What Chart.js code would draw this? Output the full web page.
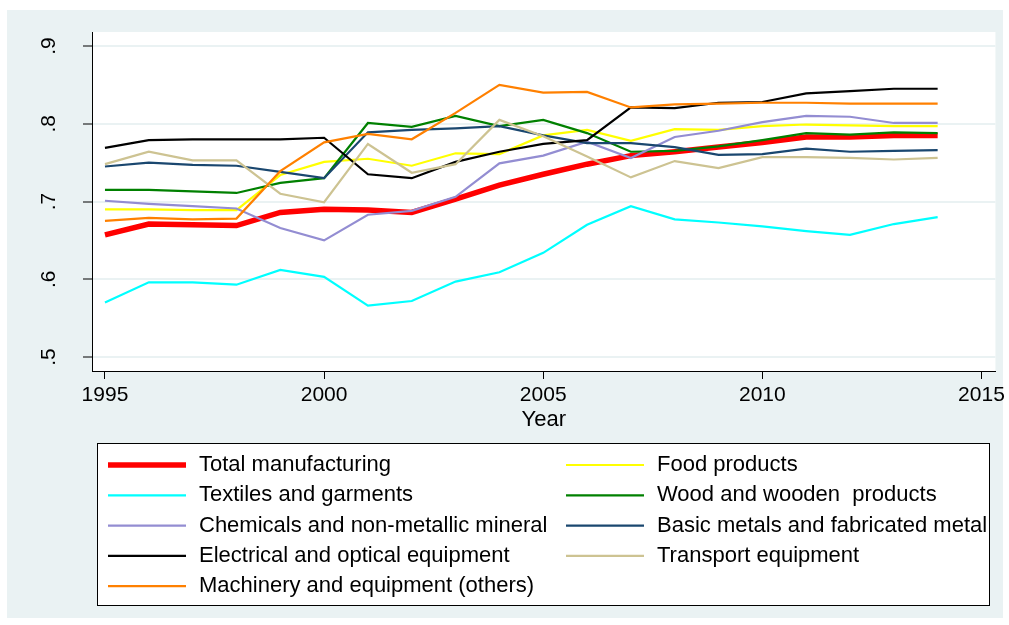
<!DOCTYPE html>
<html>
<head>
<meta charset="utf-8">
<script src="https://cdn.jsdelivr.net/npm/chart.js@4/dist/chart.umd.min.js"></script>
<style>
  body { margin: 0; background: #fff; }
  canvas { display: block; }
</style>
</head>
<body>
<canvas id="tfpChart" width="1009" height="625"></canvas>
<script>
// Years and series values by sector, 1995-2014
const years = [1995, 1996, 1997, 1998, 1999, 2000, 2001, 2002, 2003, 2004,
               2005, 2006, 2007, 2008, 2009, 2010, 2011, 2012, 2013, 2014];

const totalManufacturing = [0.657, 0.671, 0.670, 0.669, 0.686, 0.690, 0.689, 0.686, 0.703, 0.721,
                            0.735, 0.748, 0.759, 0.764, 0.770, 0.776, 0.783, 0.783, 0.785, 0.785];
const foodProducts = [0.690, 0.690, 0.689, 0.689, 0.734, 0.751, 0.755, 0.746, 0.762, 0.761,
                      0.785, 0.792, 0.778, 0.793, 0.792, 0.797, 0.799, 0.798, 0.797, 0.797];
const textiles = [0.570, 0.596, 0.596, 0.593, 0.612, 0.603, 0.566, 0.572, 0.597, 0.609,
                  0.634, 0.670, 0.694, 0.677, 0.673, 0.668, 0.662, 0.657, 0.671, 0.680];
const woodProducts = [0.715, 0.715, 0.713, 0.711, 0.724, 0.730, 0.801, 0.796, 0.810, 0.797,
                      0.805, 0.788, 0.764, 0.765, 0.771, 0.779, 0.788, 0.786, 0.789, 0.788];
const chemicals = [0.701, 0.697, 0.694, 0.691, 0.666, 0.650, 0.683, 0.688, 0.706, 0.749,
                   0.759, 0.777, 0.756, 0.783, 0.791, 0.802, 0.810, 0.809, 0.801, 0.801];
const basicMetals = [0.745, 0.750, 0.747, 0.746, 0.738, 0.730, 0.789, 0.792, 0.794, 0.797,
                     0.785, 0.775, 0.775, 0.770, 0.760, 0.761, 0.768, 0.764, 0.765, 0.766];
const electrical = [0.769, 0.779, 0.780, 0.780, 0.780, 0.782, 0.735, 0.730, 0.751, 0.764,
                    0.774, 0.779, 0.821, 0.820, 0.827, 0.828, 0.839, 0.842, 0.845, 0.845];
const transport = [0.748, 0.764, 0.753, 0.753, 0.710, 0.699, 0.774, 0.737, 0.748, 0.805,
                   0.784, 0.758, 0.731, 0.752, 0.743, 0.757, 0.757, 0.756, 0.754, 0.756];
const machinery = [0.675, 0.679, 0.677, 0.678, 0.739, 0.776, 0.787, 0.780, 0.814, 0.850,
                   0.840, 0.841, 0.821, 0.825, 0.826, 0.827, 0.827, 0.826, 0.826, 0.826];

const xTicks = [1995, 2000, 2005, 2010, 2015];
const yTicks = [0.5, 0.6, 0.7, 0.8, 0.9];
const yTickLabels = ['.5', '.6', '.7', '.8', '.9'];

const series = [
  { label: 'Total manufacturing', values: totalManufacturing, color: '#ff0000', width: 5.5 },
  { label: 'Food products', values: foodProducts, color: '#ffff00', width: 2.2 },
  { label: 'Textiles and garments', values: textiles, color: '#00ffff', width: 2.2 },
  { label: 'Wood and wooden  products', values: woodProducts, color: '#008000', width: 2.2 },
  { label: 'Chemicals and non-metallic mineral', values: chemicals, color: '#938dd2', width: 2.2 },
  { label: 'Basic metals and fabricated metal', values: basicMetals, color: '#1a476f', width: 2.2 },
  { label: 'Electrical and optical equipment', values: electrical, color: '#000000', width: 2.2 },
  { label: 'Transport equipment', values: transport, color: '#cdc392', width: 2.2 },
  { label: 'Machinery and equipment (others)', values: machinery, color: '#ff8000', width: 2.2 }
];

const FONT = '"Liberation Sans", Arial, sans-serif';
const BG = '#eaf2f3';

// page background, outer panel and white plot region
const backdrop = {
  id: 'backdrop',
  beforeDraw(chart) {
    const { ctx, chartArea: a } = chart;
    ctx.save();
    ctx.fillStyle = '#ffffff';
    ctx.fillRect(0, 0, chart.width, chart.height);
    ctx.fillStyle = BG;
    ctx.fillRect(7, 10, 996, 608);
    ctx.fillStyle = '#ffffff';
    ctx.fillRect(a.left, a.top, a.right - a.left, a.bottom - a.top);
    ctx.restore();
  }
};

// vertical y tick labels
const yLabels = {
  id: 'yLabels',
  afterDraw(chart) {
    const { ctx } = chart;
    const y = chart.scales.y;
    ctx.save();
    ctx.fillStyle = '#000';
    ctx.font = '21px ' + FONT;
    ctx.textAlign = 'center';
    ctx.textBaseline = 'middle';
    yTicks.forEach((v, i) => {
      ctx.save();
      ctx.translate(49, y.getPixelForValue(v));
      ctx.rotate(-Math.PI / 2);
      ctx.fillText(yTickLabels[i], 0, 0);
      ctx.restore();
    });
    ctx.restore();
  }
};

// two-column boxed legend under the plot
const boxLegend = {
  id: 'boxLegend',
  afterDraw(chart) {
    const { ctx } = chart;
    const left = 97, top = 443, right = 989, bottom = 605;
    ctx.save();
    ctx.fillStyle = '#ffffff';
    ctx.fillRect(left, top, right - left, bottom - top);
    ctx.strokeStyle = '#000';
    ctx.lineWidth = 1;
    ctx.strokeRect(left + 0.5, top + 0.5, right - left, bottom - top);
    ctx.font = '22px ' + FONT;
    ctx.textBaseline = 'middle';
    ctx.textAlign = 'left';
    chart.data.datasets.forEach((ds, i) => {
      const col = i % 2, row = Math.floor(i / 2);
      const x0 = col === 0 ? 108 : 566;
      const cy = 465 + row * 30.3;
      ctx.strokeStyle = ds.borderColor;
      ctx.lineWidth = ds.borderWidth;
      ctx.beginPath();
      ctx.moveTo(x0, cy);
      ctx.lineTo(x0 + 78, cy);
      ctx.stroke();
      ctx.fillStyle = '#000';
      ctx.fillText(ds.label, x0 + 91, cy);
    });
    ctx.restore();
  }
};

const datasets = series.map((s, i) => ({
  label: s.label,
  data: years.map((yr, k) => ({ x: yr, y: s.values[k] })),
  borderColor: s.color,
  backgroundColor: s.color,
  borderWidth: s.width,
  pointRadius: 0,
  tension: 0,
  fill: false,
  order: series.length - i
}));

new Chart(document.getElementById('tfpChart'), {
  type: 'line',
  data: { datasets },
  options: {
    responsive: false,
    devicePixelRatio: 1,
    animation: false,
    layout: { padding: { left: 0, top: 32, right: 11, bottom: 192 } },
    plugins: {
      legend: { display: false },
      tooltip: { enabled: false }
    },
    scales: {
      x: {
        type: 'linear',
        min: 1994.704,
        max: 2015.319,
        afterBuildTicks: (scale) => { scale.ticks = xTicks.map(v => ({ value: v })); },
        afterFit: (scale) => { scale.height = 62; },
        ticks: {
          color: '#000',
          font: { family: FONT, size: 21 },
          padding: 4,
          maxRotation: 0,
          callback: (v) => String(v)
        },
        grid: {
          drawOnChartArea: false,
          drawTicks: true,
          tickLength: 8,
          tickColor: '#000',
          tickWidth: 1
        },
        border: { display: true, color: '#000', width: 1 },
        title: {
          display: true,
          text: 'Year',
          color: '#000',
          font: { family: FONT, size: 22 },
          padding: { top: 0, bottom: 0 }
        }
      },
      y: {
        type: 'linear',
        min: 0.482,
        max: 0.918,
        afterBuildTicks: (scale) => { scale.ticks = yTicks.map(v => ({ value: v })); },
        afterFit: (scale) => { scale.width = 92; },
        ticks: { display: false },
        grid: {
          color: BG,
          lineWidth: 2,
          drawTicks: true,
          tickLength: 9,
          tickColor: '#000',
          tickWidth: 1
        },
        border: { display: true, color: '#000', width: 1 }
      }
    }
  },
  plugins: [backdrop, yLabels, boxLegend]
});
</script>
</body>
</html>
